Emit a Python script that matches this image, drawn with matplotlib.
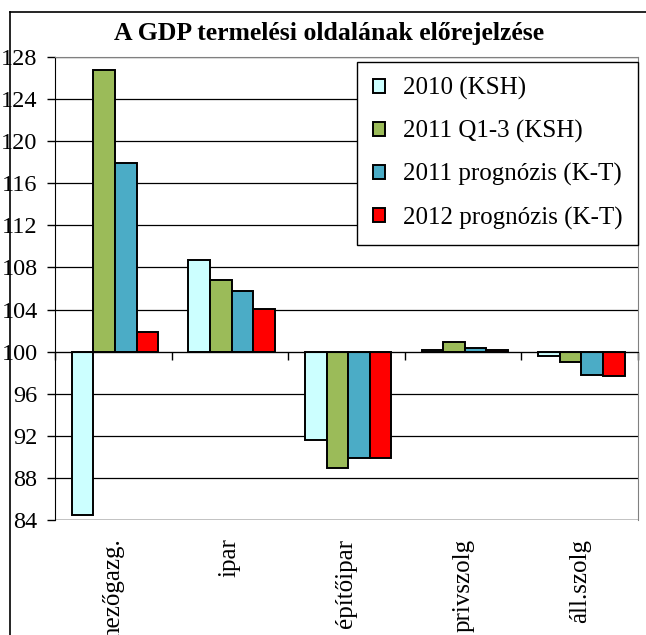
import matplotlib
matplotlib.use("Agg")
import matplotlib.pyplot as plt
from matplotlib.lines import Line2D
import numpy as np

plt.rcParams['font.family'] = ['Liberation Serif', 'DejaVu Serif']

categories = ["mezőgazg.", "ipar", "építőipar", "privszolg", "áll.szolg"]
series_names = ["2010 (KSH)", "2011 Q1-3 (KSH)", "2011 prognózis (K-T)", "2012 prognózis (K-T)"]
v2010 = [84.5, 108.7, 91.6, 100.2, 99.6]
v2011_q13 = [126.8, 106.8, 88.9, 100.9, 99.0]
v2011_prog = [117.9, 105.8, 89.9, 100.3, 97.8]
v2012_prog = [101.9, 104.1, 89.9, 100.2, 97.7]
colors = ["#ccffff", "#9bbb59", "#4bacc6", "#ff0000"]
yticks = list(range(84, 129, 4))

fig = plt.figure(figsize=(6.46, 6.35), dpi=100)
ax = fig.add_axes([0.0851, 0.1811, 0.9025, 0.7291])

x = np.arange(len(categories))
width = 0.185
base = 100
for i, (vals, c, name) in enumerate(zip([v2010, v2011_q13, v2011_prog, v2012_prog], colors, series_names)):
    offs = (i - 1.5) * width + 0.015
    heights = [v - base for v in vals]
    ax.bar(x + offs, heights, width, bottom=base, color=c, edgecolor="black",
           linewidth=1.4, label=name, zorder=3)

ax.set_ylim(84, 128)
ax.set_xlim(-0.5, len(categories) - 0.5)
ax.set_yticks(yticks)
ax.tick_params(axis="y", direction="out", length=5.5, width=1, pad=7, labelsize=17.5)
ax.yaxis.grid(True, color="black", linewidth=0.9, zorder=0)

# category axis crosses at 100
ax.spines["bottom"].set_position(("data", 100))
ax.spines["bottom"].set_zorder(4)
ax.set_xticks(np.arange(len(categories) + 1) - 0.5)
ax.set_xticklabels([])
ax.tick_params(axis="x", direction="out", length=6, width=1, color="black")
for xi, lab in zip(x, categories):
    ax.text(xi, -0.04, lab, transform=ax.get_xaxis_transform(), rotation=90,
            ha="center", va="top", fontsize=18)

for s in ["top", "right"]:
    ax.spines[s].set_color("#808080")
ax.spines["left"].set_color("black")
ax.axhline(84, color="black", linewidth=0.9, zorder=1)

leg = ax.legend(loc="upper right", bbox_to_anchor=(1.0, 0.99), fontsize=18,
                frameon=True, fancybox=False, edgecolor="black", framealpha=1,
                handlelength=0.5, handleheight=0.5, handletextpad=0.7,
                labelspacing=0.8, borderpad=0.62, borderaxespad=0)
leg.get_frame().set_linewidth(1)

fig.text(0.51, 0.948, "A GDP termelési oldalának előrejelzése", ha="center", va="center",
         fontsize=18.5, fontweight="bold")

# outer chart border (cropped)
fig.add_artist(Line2D([0.0155, 0.0155], [0.0, 0.981], color="black", linewidth=1.2))
fig.add_artist(Line2D([0.0155, 1.0], [0.981, 0.981], color="black", linewidth=1.2))

fig.savefig("out.png", dpi=100)
